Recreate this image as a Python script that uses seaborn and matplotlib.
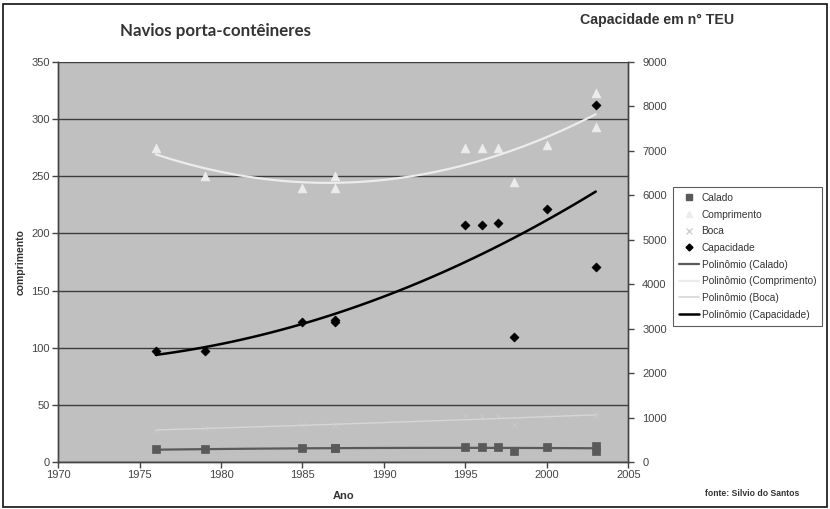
import matplotlib
matplotlib.use("Agg")
import matplotlib.pyplot as plt
from matplotlib.lines import Line2D
from matplotlib.patches import Rectangle
import seaborn as sns

# values
years = [1976, 1979, 1985, 1987, 1987, 1995, 1996, 1997, 1998, 2000, 2003, 2003]
comprimento = [275, 250, 240, 250, 240, 275, 275, 275, 245, 277, 323, 293]
calado = [11, 11, 12, 12, 12, 13, 13, 13, 10, 13, 14, 10]
boca = [28, 30, 32, 32, 32, 40, 40, 40, 32, 40, 43, 40]
capacidade = [2500, 2500, 3150, 3200, 3150, 5330, 5330, 5380, 2810, 5690, 8030, 4390]

left_ticks = [0, 50, 100, 150, 200, 250, 300, 350]
right_ticks = [0, 1000, 2000, 3000, 4000, 5000, 6000, 7000, 8000, 9000]
x_ticks = [1970, 1975, 1980, 1985, 1990, 1995, 2000, 2005]

c_calado = '#5a5a5a'
c_compr = '#ececec'
c_boca = '#d6d6d6'
c_cap = '#000000'

sns.set_style('white')
plt.rcParams['font.family'] = ['Liberation Sans', 'DejaVu Sans']

fig = plt.figure(figsize=(8.3, 5.09), dpi=100)
ax = fig.add_axes([0.070, 0.0923, 0.687, 0.786])
ax.set_facecolor('#c0c0c0')
ax2 = ax.twinx()

# left axis series
sns.regplot(x=years, y=calado, order=2, ci=None, scatter=False, truncate=True,
            line_kws=dict(color=c_calado, lw=1.6), ax=ax)
sns.regplot(x=years, y=boca, order=2, ci=None, scatter=False, truncate=True,
            line_kws=dict(color=c_boca, lw=1.0), ax=ax)
sns.regplot(x=years, y=comprimento, order=2, ci=None, scatter=False, truncate=True,
            line_kws=dict(color=c_compr, lw=1.6), ax=ax)
sns.scatterplot(x=years, y=calado, marker='s', s=40, color=c_calado,
                edgecolor=c_calado, ax=ax, zorder=4)
sns.scatterplot(x=years, y=boca, marker='x', s=20, color='#cfcfcf', ax=ax, zorder=3)
sns.scatterplot(x=years, y=comprimento, marker='^', s=40, color=c_compr,
                edgecolor=c_compr, ax=ax, zorder=4)

# right axis series
sns.regplot(x=years, y=capacidade, order=2, ci=None, scatter=False, truncate=True,
            line_kws=dict(color=c_cap, lw=1.8), ax=ax2)
sns.scatterplot(x=years, y=capacidade, marker='D', s=22, color=c_cap,
                edgecolor=c_cap, ax=ax2, zorder=4)

ax.set_xlim(1970, 2005)
ax.set_ylim(0, 350)
ax2.set_ylim(0, 9000)
ax.set_xticks(x_ticks)
ax.set_yticks(left_ticks)
ax2.set_yticks(right_ticks)
ax.grid(axis='y', color='#3c3c3c', lw=1.0)
ax.set_axisbelow(True)

for a in (ax, ax2):
    a.spines['top'].set_visible(False)
    for s in ('left', 'right', 'bottom'):
        a.spines[s].set_color('#444444')
        a.spines[s].set_linewidth(1.0)
    a.tick_params(direction='out', length=4, width=1, color='#444444',
                  labelsize=8, labelcolor='#444444', pad=2)
ax.tick_params(axis='x', bottom=True)
ax.tick_params(axis='y', left=True)
ax2.tick_params(axis='y', right=True, pad=6)

ax.set_xlabel('Ano', fontsize=8, fontweight='bold', color='#333333', labelpad=8)
ax.set_ylabel('comprimento', fontsize=7.5, fontweight='bold', color='#333333', labelpad=4)
ax2.set_ylabel('')

fig.text(0.145, 0.94, 'Navios porta-contêineres', fontsize=12.2, fontweight='bold',
         color='#333333', family=['Lato', 'DejaVu Sans'], va='center')
fig.text(0.699, 0.96, 'Capacidade em n° TEU', fontsize=10.2, fontweight='bold',
         color='#333333', va='center')
fig.text(0.849, 0.031, 'fonte: Silvio do Santos', fontsize=6.2, fontweight='bold',
         color='#333333', ha='left', va='center')

handles = [
    Line2D([], [], ls='none', marker='s', ms=5, color=c_calado),
    Line2D([], [], ls='none', marker='^', ms=5, color=c_compr),
    Line2D([], [], ls='none', marker='x', ms=5, color='#cfcfcf'),
    Line2D([], [], ls='none', marker='D', ms=3.5, color=c_cap),
    Line2D([], [], color=c_calado, lw=1.6),
    Line2D([], [], color=c_compr, lw=1.6),
    Line2D([], [], color=c_boca, lw=1.2),
    Line2D([], [], color=c_cap, lw=1.8),
]
labels = ['Calado', 'Comprimento', 'Boca', 'Capacidade', 'Polinômio (Calado)',
          'Polinômio (Comprimento)', 'Polinômio (Boca)', 'Polinômio (Capacidade)']
leg = fig.legend(handles, labels, loc='upper left', bbox_to_anchor=(0.808, 0.637),
                 fontsize=7.3, frameon=True, fancybox=False, handlelength=2.0,
                 handletextpad=0.25, labelspacing=0.66, borderpad=0.6,
                 borderaxespad=0.2)
leg.get_frame().set_edgecolor('#333333')
leg.get_frame().set_linewidth(0.8)
for t in leg.get_texts():
    t.set_color('#333333')

fig.patches.append(Rectangle((0.004, 0.004), 0.992, 0.988, transform=fig.transFigure,
                             fill=False, edgecolor='#111111', lw=1.2))

fig.savefig('out.png', dpi=100)
